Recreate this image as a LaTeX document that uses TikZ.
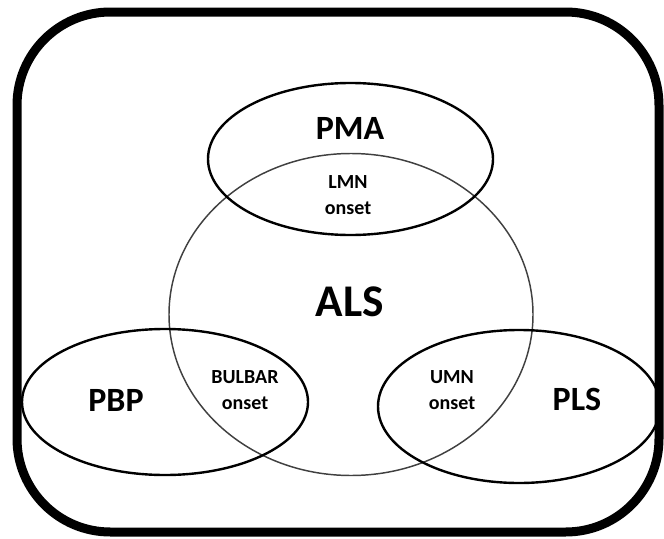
\documentclass[tikz,border=0pt]{standalone}
\usepackage{fontspec}
\setmainfont{Carlito}
\begin{document}
\begin{tikzpicture}[x=0.75pt,y=-0.75pt,
  big/.style={font=\bfseries\fontsize{25.5}{28}\selectfont},
  huge/.style={font=\bfseries\fontsize{34}{38}\selectfont},
  small/.style={font=\bfseries\fontsize{15}{19}\selectfont,align=center},
  set/.style={draw=black,line width=1.8pt},
  core/.style={draw=black!75,line width=1.1pt}]
\useasboundingbox (0,0) rectangle (664,539);
\draw[line width=6.75pt,rounded corners=70] (17,12) rectangle (659,532);
\draw[core] (351,314.5) ellipse [x radius=182,y radius=161];
\draw[set] (350.5,159) ellipse [x radius=142.5,y radius=76];
\draw[set] (165,402) ellipse [x radius=143,y radius=73];
\draw[set] (519,406.5) ellipse [x radius=141,y radius=76.5];
\node[big] (pma) at (350,128) {PMA};
\node[huge] (als) at (350,302) {ALS};
\node[big] (pbp) at (116,400) {PBP};
\node[big] (pls) at (577,399) {PLS};
\node[small] (lmn) at (348,195) {LMN\\onset};
\node[small] (bulbar) at (245,390) {BULBAR\\onset};
\node[small] (umn) at (452,390) {UMN\\onset};
\end{tikzpicture}
\end{document}
